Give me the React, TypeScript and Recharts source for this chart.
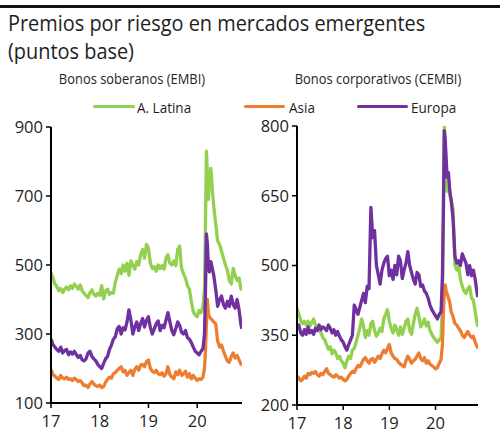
import React from 'react';
import { LineChart, Line, XAxis, YAxis } from 'recharts';

const FONT = "'Open Sans', 'Noto Sans', sans-serif";
const GREEN = '#92D050';
const ORANGE = '#ED7D31';
const PURPLE = '#7030A0';
const TEXT = '#1e1e1e';

const dates = [
  17.00, 17.04, 17.08, 17.12, 17.16, 17.20, 17.24, 17.28, 17.32, 17.36, 17.40, 17.44, 17.48, 17.52, 17.56, 17.60, 17.64, 17.68, 17.72, 17.76, 17.80, 17.84, 17.88, 17.92, 17.96,
  18.00, 18.04, 18.08, 18.12, 18.16, 18.20, 18.24, 18.28, 18.32, 18.36, 18.40, 18.44, 18.48, 18.52, 18.56, 18.60, 18.64, 18.68, 18.72, 18.76, 18.80, 18.84, 18.88, 18.92, 18.96,
  19.00, 19.04, 19.08, 19.12, 19.16, 19.20, 19.24, 19.28, 19.32, 19.36, 19.40, 19.44, 19.48, 19.52, 19.56, 19.60, 19.64, 19.68, 19.72, 19.76, 19.80, 19.84, 19.88, 19.92, 19.96,
  20.00, 20.04, 20.08, 20.12, 20.15, 20.17, 20.19, 20.21, 20.23, 20.25, 20.28, 20.31, 20.34, 20.38, 20.42, 20.46, 20.50, 20.54, 20.58, 20.62, 20.66, 20.70, 20.74, 20.78, 20.82, 20.86, 20.90, 20.92,
];

// Bonos soberanos (EMBI)
const embiLatam = [
  478, 462, 445, 438, 425, 432, 420, 430, 436, 428, 440, 432, 445, 438, 430, 442, 425, 418, 412, 405, 420, 428, 415, 410, 418,
  412, 440, 402, 425, 430, 415, 420, 418, 450, 470, 488, 475, 500, 482, 505, 470, 512, 500, 488, 510, 500, 530, 545, 520, 560,
  548, 505, 490, 495, 482, 500, 490, 498, 488, 520, 530, 505, 500, 512, 498, 545, 555, 490, 475, 462, 440, 430, 395, 365, 355,
  350, 368, 362, 380, 430, 620, 830, 760, 690, 740, 780, 720, 670, 620, 570, 560, 540, 520, 500, 485, 455, 445, 490, 470, 455, 462, 430, 428,
];
const embiAsia = [
  198, 182, 178, 172, 168, 180, 172, 170, 175, 168, 170, 165, 172, 168, 162, 165, 158, 150, 152, 145, 155, 162, 155, 150, 148,
  152, 145, 148, 160, 168, 175, 172, 185, 188, 195, 200, 205, 190, 195, 180, 188, 195, 180, 198, 205, 195, 210, 212, 205, 220,
  225, 200, 192, 188, 195, 185, 182, 188, 178, 185, 205, 182, 175, 170, 190, 182, 195, 180, 185, 192, 175, 185, 170, 180, 172,
  165, 170, 168, 175, 200, 250, 330, 400, 360, 350, 345, 340, 335, 330, 280, 262, 268, 250, 235, 222, 218, 235, 245, 230, 238, 225, 212, 210,
];
const embiEuropa = [
  285, 270, 262, 255, 250, 262, 245, 252, 255, 240, 248, 242, 250, 240, 232, 238, 225, 222, 228, 245, 250, 235, 228, 222, 212,
  205, 200, 215, 228, 235, 255, 268, 285, 292, 315, 322, 300, 318, 312, 335, 370, 340, 300, 320, 335, 310, 330, 345, 320, 340,
  350, 318, 300, 315, 330, 338, 310, 325, 318, 340, 362, 335, 310, 298, 315, 335, 325, 305, 300, 310, 290, 285, 275, 262, 250,
  245, 240, 250, 258, 300, 420, 590, 560, 500, 480, 510, 490, 470, 430, 380, 400, 410, 385, 375, 395, 380, 410, 385, 375, 400, 370, 325, 315,
];

// Bonos corporativos (CEMBI)
const cembiLatam = [
  408, 395, 382, 375, 380, 372, 380, 370, 378, 385, 372, 368, 362, 355, 345, 340, 330, 320, 325, 310, 318, 312, 300, 305, 295,
  290, 280, 295, 305, 300, 318, 322, 335, 350, 365, 385, 370, 345, 360, 350, 375, 380, 360, 348, 355, 365, 358, 385, 395, 405,
  380, 365, 355, 372, 362, 350, 368, 352, 365, 380, 385, 360, 352, 375, 395, 408, 390, 368, 375, 385, 370, 378, 360, 352, 345,
  340, 335, 340, 345, 420, 600, 800, 760, 700, 660, 670, 650, 640, 620, 500, 490, 500, 470, 455, 445, 440, 450, 455, 430, 425, 400, 375, 368,
];
const cembiAsia = [
  262, 258, 252, 255, 262, 258, 268, 265, 270, 268, 272, 265, 262, 268, 265, 272, 278, 268, 265, 262, 260, 265, 262, 258, 260,
  255, 252, 255, 262, 268, 272, 270, 278, 285, 282, 290, 298, 302, 295, 290, 298, 300, 292, 298, 305, 300, 310, 318, 312, 322,
  330, 312, 305, 300, 298, 292, 288, 285, 282, 295, 305, 298, 290, 295, 298, 305, 312, 300, 295, 302, 290, 295, 288, 285, 282,
  278, 280, 290, 298, 330, 400, 440, 458, 445, 440, 430, 420, 400, 390, 375, 372, 365, 360, 350, 345, 352, 358, 350, 345, 348, 335, 325, 322,
];
const cembiEuropa = [
  365, 372, 355, 350, 362, 352, 368, 355, 360, 352, 365, 360, 372, 362, 368, 365, 360, 372, 365, 355, 362, 350, 358, 348, 340,
  335, 325, 318, 330, 340, 350, 415, 405, 395, 410, 425, 440, 420, 455, 450, 625, 560, 575, 500, 480, 460, 490, 505, 515, 520,
  478, 490, 470, 500, 480, 520, 510, 472, 490, 505, 530, 500, 485, 470, 460, 485, 480, 455, 458, 445, 440, 430, 415, 405, 398,
  392, 385, 395, 400, 480, 620, 790, 770, 730, 690, 700, 660, 640, 600, 520, 505, 510, 500, 525, 515, 505, 480, 500, 478, 490, 470, 440, 432,
];

const yearTicks = [17, 18, 19, 20];
const embiTicks = [100, 300, 500, 700, 900];
const cembiTicks = [200, 350, 500, 650, 800];

const embiData = dates.map((t, i) => ({ t, latam: embiLatam[i], asia: embiAsia[i], europa: embiEuropa[i] }));
const cembiData = dates.map((t, i) => ({ t, latam: cembiLatam[i], asia: cembiAsia[i], europa: cembiEuropa[i] }));

type PanelProps = {
  data: any[];
  yTicks: number[];
  yDomain: [number, number];
  left: number;
  yWidth: number;
  marginTop: number;
  marginRight: number;
  xHeight: number;
  order: string[];
};

const colorOf: Record<string, string> = { latam: GREEN, asia: ORANGE, europa: PURPLE };

function Panel({ data, yTicks, yDomain, left, yWidth, marginTop, marginRight, xHeight, order }: PanelProps) {
  const tickStyle = { fill: TEXT, fontSize: 16.5, fontFamily: FONT };
  return (
    <div style={{ position: 'absolute', left, top: 0 }}>
      <LineChart width={250} height={433} data={data} margin={{ top: marginTop, right: marginRight, bottom: 0, left: 0 }}>
        <XAxis
          dataKey="t"
          type="number"
          domain={[17, 20.92]}
          ticks={yearTicks}
          interval={0}
          allowDataOverflow
          height={xHeight}
          axisLine={{ stroke: '#000', strokeWidth: 2 }}
          tickLine={{ stroke: '#000', strokeWidth: 1.5 }}
          tickSize={5}
          tickMargin={7}
          tick={tickStyle}
        />
        <YAxis
          type="number"
          domain={yDomain}
          ticks={yTicks}
          interval={0}
          allowDataOverflow
          width={yWidth}
          axisLine={{ stroke: '#000', strokeWidth: 2 }}
          tickLine={{ stroke: '#000', strokeWidth: 1.5 }}
          tickSize={5}
          tickMargin={3}
          tick={tickStyle}
        />
        {order.map((k) => (
          <Line
            key={k}
            type="linear"
            dataKey={k}
            stroke={colorOf[k]}
            strokeWidth={3.3}
            dot={false}
            activeDot={false}
            isAnimationActive={false}
            strokeLinejoin="round"
          />
        ))}
      </LineChart>
    </div>
  );
}

const legendItems = [
  { label: 'A. Latina', color: GREEN, x0: 93, x1: 135, tx: 137 },
  { label: 'Asia', color: ORANGE, x0: 244, x1: 285, tx: 289 },
  { label: 'Europa', color: PURPLE, x0: 357, x1: 408, tx: 411 },
];

export default function App() {
  return (
    <div style={{ position: 'absolute', left: 0, top: 0, width: 500, height: 433, background: '#fff', overflow: 'hidden', fontFamily: FONT, color: TEXT }}>
      <div style={{ position: 'absolute', left: 0, top: 5, width: 500, height: 3, background: '#111' }} />
      <div style={{ position: 'absolute', left: 8, top: 8, fontSize: 22, lineHeight: '28px', whiteSpace: 'nowrap', transform: 'scaleX(0.905)', transformOrigin: 'left top' }}>
        <div>Premios por riesgo en mercados emergentes</div>
        <div>(puntos base)</div>
      </div>
      <div style={{ position: 'absolute', left: 132 - 150, top: 68, width: 300, textAlign: 'center', fontSize: 15, lineHeight: '20px', whiteSpace: 'nowrap', transform: 'scaleX(0.86)' }}>
        Bonos soberanos (EMBI)
      </div>
      <div style={{ position: 'absolute', left: 378 - 150, top: 68, width: 300, textAlign: 'center', fontSize: 15, lineHeight: '20px', whiteSpace: 'nowrap', transform: 'scaleX(0.86)' }}>
        Bonos corporativos (CEMBI)
      </div>
      {legendItems.map((it) => (
        <React.Fragment key={it.label}>
          <div style={{ position: 'absolute', left: it.x0, top: 105, width: it.x1 - it.x0, height: 3, background: it.color, borderRadius: 1.5 }} />
          <div style={{ position: 'absolute', left: it.tx, top: 97, fontSize: 15, lineHeight: '20px', whiteSpace: 'nowrap', transform: 'scaleX(0.9)', transformOrigin: 'left top' }}>
            {it.label}
          </div>
        </React.Fragment>
      ))}
      <Panel data={embiData} yTicks={embiTicks} yDomain={[100, 900]} left={0} yWidth={51} marginTop={127} marginRight={8} xHeight={30} order={['latam', 'asia', 'europa']} />
      <Panel data={cembiData} yTicks={cembiTicks} yDomain={[200, 800]} left={250} yWidth={47} marginTop={126} marginRight={22} xHeight={28} order={['latam', 'asia', 'europa']} />
    </div>
  );
}
